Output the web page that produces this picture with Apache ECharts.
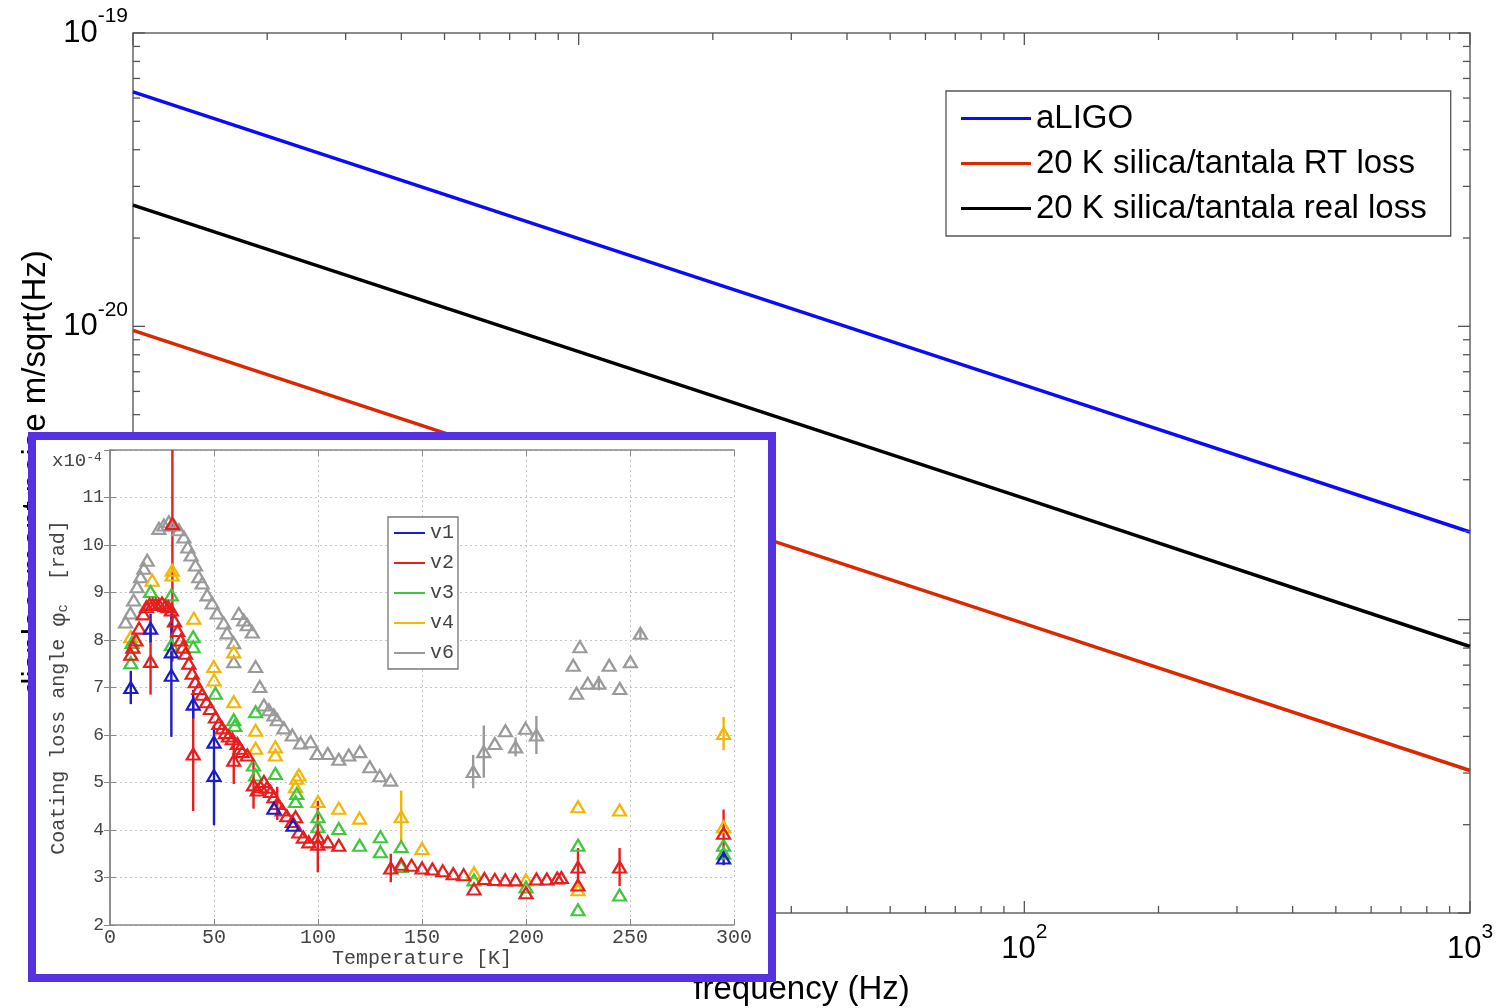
<!DOCTYPE html>
<html>
<head>
<meta charset="utf-8">
<script src="https://cdn.jsdelivr.net/npm/echarts@6/dist/echarts.min.js"></script>
<style>
  html, body { margin: 0; padding: 0; background: #fff; }
  #chart { width: 1501px; height: 1008px; }
</style>
</head>
<body>
<div id="chart"></div>
<script>
// ---- Main plot: coating thermal noise vs frequency (log-log) ----
const freq = [1, 10, 100, 1000];
const aligo = [6.30e-20, 1.99e-20, 6.30e-21, 1.99e-21];
const rtLoss = [9.69e-21, 3.06e-21, 9.69e-22, 3.06e-22];
const realLoss = [2.59e-20, 8.2e-21, 2.59e-21, 8.1e-22];

const xMajorTicks = [1, 10, 100, 1000];
const xMinorTicks = [2, 3, 4, 5, 6, 7, 8, 9, 20, 30, 40, 50, 60, 70, 80, 90, 200, 300, 400, 500, 600, 700, 800, 900];
const yMajorTicks = [1e-22, 1e-21, 1e-20, 1e-19];
const yMinorTicks = [2e-22, 3e-22, 4e-22, 5e-22, 6e-22, 7e-22, 8e-22, 9e-22,
                     2e-21, 3e-21, 4e-21, 5e-21, 6e-21, 7e-21, 8e-21, 9e-21,
                     2e-20, 3e-20, 4e-20, 5e-20, 6e-20, 7e-20, 8e-20, 9e-20];

// the noise axis is plotted in units of 1e-22 m/sqrt(Hz) to keep the log scale well conditioned
const Y_UNIT = 1e-22;
const Y_UNIT_EXP = -22;

// ---- Inset: coating loss angle vs temperature, [T (K), phi (1e-4 rad), error] ----
const v1 = [
  [10, 7.0, 0.35], [19.5, 8.25, 0.3], [29.5, 7.75, 0], [29.5, 7.26, 1.3], [40, 6.65, 0.3],
  [50, 5.85, 0], [50, 5.15, 1.05], [78.8, 4.46, 0], [88, 4.1, 0], [295, 3.41, 0.15]
];
const v2 = [
  [10, 7.7, 0], [11, 7.85, 0], [12.5, 8.0, 0], [14, 8.25, 0], [16, 8.55, 0], [17.5, 8.7, 0],
  [19, 8.75, 0], [19.5, 7.55, 0.7], [20.5, 8.75, 0], [22, 8.75, 0], [23.5, 8.75, 0], [25, 8.78, 0],
  [26.5, 8.72, 0], [28, 8.7, 0], [30, 10.45, 2.9], [29.5, 8.63, 0], [31, 8.4, 0], [32.5, 8.2, 0],
  [34, 8.0, 0], [35, 7.85, 0], [36.3, 7.72, 0], [37.9, 7.51, 0], [39.5, 7.3, 0], [40, 5.6, 1.2],
  [41, 7.12, 0], [42.7, 6.98, 0], [44.3, 6.86, 0], [46.4, 6.7, 0], [48.3, 6.56, 0], [50.7, 6.38, 0],
  [52.3, 6.24, 0], [54, 6.15, 0], [55.5, 6.05, 0], [57, 5.98, 0], [58.8, 5.92, 0], [59.5, 5.47, 0.5],
  [61.2, 5.82, 0], [62.5, 5.72, 0], [63.6, 5.65, 0], [66, 5.58, 0], [69, 4.95, 0.5], [70.8, 4.84, 0],
  [72.4, 4.91, 0], [74, 5.02, 0], [75.5, 4.9, 0], [77.2, 4.81, 0], [78.8, 4.7, 0], [80.4, 4.56, 0.35],
  [82.8, 4.42, 0], [85, 4.3, 0], [87.6, 4.18, 0], [89.2, 4.28, 0], [90.8, 3.96, 0], [93, 3.85, 0],
  [95.6, 3.75, 0], [99.9, 3.86, 0.75], [99.9, 3.7, 0], [104.7, 3.75, 0], [110, 3.68, 0],
  [135, 3.2, 0.3], [140, 3.28, 0], [145, 3.26, 0], [150, 3.2, 0], [155, 3.18, 0], [160, 3.14, 0],
  [165, 3.08, 0], [170, 3.06, 0], [175, 2.76, 0], [180, 2.98, 0], [185, 2.96, 0], [190, 2.95, 0],
  [195, 2.95, 0], [200, 2.68, 0], [205, 2.97, 0], [210, 2.97, 0], [215, 2.99, 0], [217, 3.0, 0],
  [225, 3.22, 0.4], [225, 2.84, 0], [245, 3.22, 0.4], [295, 3.93, 0.5]
];
const v3 = [
  [10, 7.52, 0], [10.6, 7.95, 0], [19.5, 9.02, 0], [29.5, 8.95, 0], [29.5, 7.9, 0], [40, 8.07, 0],
  [40, 7.86, 0], [50.7, 6.88, 0], [59.5, 6.32, 0], [60, 6.2, 0], [70, 6.49, 0], [69, 5.37, 0],
  [70, 5.16, 0], [79.5, 5.19, 0], [89.8, 4.77, 0], [89.2, 4.6, 0], [100, 4.28, 0], [100, 4.07, 0],
  [110, 4.03, 0], [120, 3.68, 0], [130, 3.86, 0], [130, 3.54, 0], [140, 3.65, 0], [140, 3.23, 0],
  [175, 2.95, 0], [200, 2.8, 0], [225, 3.68, 0], [225, 2.32, 0], [245, 2.63, 0], [295, 3.68, 0],
  [295, 3.51, 0]
];
const v4 = [
  [10, 8.07, 0], [20.3, 9.26, 0], [29.9, 9.47, 0], [29.9, 9.37, 0], [40.3, 8.46, 0], [49.9, 7.44, 0],
  [50, 7.16, 0], [59.5, 7.75, 0], [59.5, 6.7, 0], [70, 6.1, 0], [70, 5.72, 0], [79.5, 5.75, 0],
  [79.5, 5.58, 0], [89.8, 5.09, 0], [90.8, 5.16, 0], [89.2, 4.91, 0], [100, 4.6, 0], [110, 4.46, 0],
  [120, 4.25, 0], [140, 4.28, 0.55], [150, 3.61, 0], [175, 3.1, 0], [200, 2.95, 0], [225, 4.49, 0],
  [225, 2.74, 0], [245, 4.42, 0], [295, 6.03, 0.35], [295, 4.07, 0]
];
const v6 = [
  [7.5, 8.38, 0], [9.8, 8.57, 0], [11.4, 8.84, 0], [13, 9.12, 0], [14.7, 9.33, 0], [16.3, 9.51, 0],
  [17.9, 9.68, 0], [23.5, 10.35, 0], [25.9, 10.42, 0], [28.3, 10.49, 0], [30.7, 10.42, 0],
  [33.1, 10.32, 0], [35.5, 10.17, 0], [37.4, 9.96, 0], [39, 9.79, 0], [41.1, 9.58, 0], [42.7, 9.33, 0],
  [44.3, 9.2, 0], [46.7, 8.95, 0], [49.1, 8.78, 0], [51.5, 8.57, 0], [54.7, 8.36, 0], [56.3, 8.15, 0],
  [59.5, 7.94, 0], [61.9, 8.56, 0], [64.3, 8.42, 0], [66, 8.32, 0], [68.4, 8.17, 0], [59.5, 7.54, 0],
  [70, 7.44, 0], [72, 7.02, 0], [74, 6.63, 0], [76.4, 6.53, 0], [78.8, 6.42, 0], [80.4, 6.32, 0],
  [83.6, 6.15, 0], [87.6, 6.0, 0], [91.6, 5.83, 0], [96.4, 5.86, 0], [99.6, 5.61, 0], [104.7, 5.61, 0],
  [110, 5.49, 0], [114.8, 5.58, 0], [120.1, 5.65, 0], [124.9, 5.33, 0], [129.7, 5.14, 0],
  [134.9, 5.05, 0], [174.6, 5.23, 0.35], [179.7, 5.65, 0.55], [185, 5.82, 0], [190.1, 6.09, 0],
  [195, 5.75, 0.2], [199.8, 6.14, 0], [205, 6.0, 0.4], [222.7, 7.47, 0], [224.3, 6.88, 0],
  [225.9, 7.86, 0], [229.7, 7.09, 0], [235, 7.09, 0.15], [240, 7.47, 0], [245.1, 6.98, 0],
  [250.2, 7.54, 0], [255, 8.14, 0.1]
];

const insetYTicks = [2, 3, 4, 5, 6, 7, 8, 9, 10, 11];

const SANS = "'Liberation Sans', Arial, sans-serif";
const MONO = "'Liberation Mono', 'Courier New', monospace";

const chart = echarts.init(document.getElementById('chart'), null, { renderer: 'canvas' });

const powRich = {
  b: { fontSize: 31, fontFamily: SANS, color: '#000', lineHeight: 54 },
  s: { fontSize: 21, fontFamily: SANS, color: '#000', lineHeight: 22, verticalAlign: 'top' }
};
function xPowLabel(v) { return '{b|10}{s|' + Math.round(Math.log10(v)) + '}'; }
function yPowLabel(v) { return '{b|10}{s|' + (Math.round(Math.log10(v)) + Y_UNIT_EXP) + '}'; }

// tick marks on all four sides of the log-log frame
function xTickItem(params, api) {
  const p = api.coord([api.value(0), api.value(1)]);
  const cs = params.coordSys;
  const len = api.value(2);
  const st = { stroke: '#555', lineWidth: 1.3 };
  return { type: 'group', children: [
    { type: 'line', shape: { x1: p[0], y1: cs.y + cs.height, x2: p[0], y2: cs.y + cs.height - len }, style: st },
    { type: 'line', shape: { x1: p[0], y1: cs.y, x2: p[0], y2: cs.y + len }, style: st }
  ] };
}
function yTickItem(params, api) {
  const p = api.coord([api.value(0), api.value(1)]);
  const cs = params.coordSys;
  const len = api.value(2);
  const st = { stroke: '#555', lineWidth: 1.3 };
  return { type: 'group', children: [
    { type: 'line', shape: { x1: cs.x, y1: p[1], x2: cs.x + len, y2: p[1] }, style: st },
    { type: 'line', shape: { x1: cs.x + cs.width, y1: p[1], x2: cs.x + cs.width - len, y2: p[1] }, style: st }
  ] };
}

function errItemFactory(color) {
  return function (params, api) {
    const t = api.value(0), v = api.value(1), e = api.value(2);
    const a = api.coord([t, Math.max(2, v - e)]);
    const b = api.coord([t, Math.min(12, v + e)]);
    return { type: 'line', shape: { x1: a[0], y1: a[1], x2: b[0], y2: b[1] },
             style: { stroke: color, lineWidth: 2.4 } };
  };
}

const insetColors = { v1: '#1c1cc8', v2: '#e61e1e', v3: '#3ec83e', v4: '#f2b705', v6: '#9a9a9a' };
const insetSets = [['v6', v6], ['v4', v4], ['v3', v3], ['v2', v2], ['v1', v1]];

const insetSeries = [];
insetSets.forEach(([name, arr]) => {
  insetSeries.push({
    type: 'custom', name: name + ' err', xAxisIndex: 1, yAxisIndex: 1, z: 61, silent: true,
    renderItem: errItemFactory(insetColors[name]),
    data: arr.filter(d => d[2] > 0)
  });
});
insetSets.forEach(([name, arr]) => {
  insetSeries.push({
    type: 'scatter', name: name, xAxisIndex: 1, yAxisIndex: 1, z: 62, silent: true,
    symbol: 'triangle', symbolSize: [13, 11],
    itemStyle: { color: 'rgba(255,255,255,0)', borderColor: insetColors[name], borderWidth: 2.2, opacity: 1 },
    data: arr
  });
});

const toPlot = (vals) => freq.map((f, i) => [f, vals[i] / Y_UNIT]);

const option = {
  animation: false,
  backgroundColor: '#fff',
  grid: [
    { left: 133, top: 33, right: 31, bottom: 95, outerBoundsMode: 'none', containLabel: false,
      show: true, borderColor: '#666', borderWidth: 1.5, backgroundColor: 'rgba(0,0,0,0)' },
    { left: 110, top: 450, right: 767, bottom: 83, outerBoundsMode: 'none', containLabel: false }
  ],
  xAxis: [
    {
      type: 'log', logBase: 10, min: 1, max: 1000, gridIndex: 0,
      axisLine: { show: false }, axisTick: { show: false }, splitLine: { show: false },
      axisLabel: { formatter: xPowLabel, rich: powRich, margin: 9 },
      name: 'frequency (Hz)', nameLocation: 'middle', nameGap: 60,
      nameTextStyle: { fontSize: 33, fontFamily: SANS, color: '#000' }
    },
    {
      type: 'value', min: 0, max: 300, interval: 50, gridIndex: 1, z: 60,
      axisLine: { show: true, lineStyle: { color: '#888', width: 1.5 } },
      axisTick: { show: true, inside: true, length: 6, lineStyle: { color: '#888' } },
      splitLine: { show: true, lineStyle: { color: '#c4c4c4', type: [2, 3], width: 1 } },
      axisLabel: { fontSize: 20, fontFamily: MONO, color: '#444', margin: 3 },
      name: 'Temperature [K]', nameLocation: 'middle', nameGap: 20,
      nameTextStyle: { fontSize: 20, fontFamily: MONO, color: '#444' }
    },
    {
      type: 'value', min: 0, max: 300, interval: 50, gridIndex: 1, position: 'top', z: 60,
      axisLine: { show: true, lineStyle: { color: '#888', width: 1.5 } },
      axisTick: { show: true, inside: true, length: 6, lineStyle: { color: '#888' } },
      splitLine: { show: false }, axisLabel: { show: false }
    }
  ],
  yAxis: [
    {
      type: 'log', logBase: 10, min: yMajorTicks[0] / Y_UNIT, max: yMajorTicks[3] / Y_UNIT, gridIndex: 0,
      axisLine: { show: false }, axisTick: { show: false }, splitLine: { show: false },
      axisLabel: { formatter: yPowLabel, rich: powRich, margin: 5 },
      name: 'displacement noise m/sqrt(Hz)', nameLocation: 'middle', nameGap: 80,
      nameTextStyle: { fontSize: 33, fontFamily: SANS, color: '#000' }
    },
    {
      type: 'value', min: 2, max: 12, interval: 1, gridIndex: 1, z: 60,
      axisLine: { show: true, lineStyle: { color: '#888', width: 1.5 } },
      axisTick: { show: true, inside: true, length: 6, lineStyle: { color: '#888' } },
      splitLine: { show: true, lineStyle: { color: '#c4c4c4', type: [2, 3], width: 1 } },
      axisLabel: {
        fontSize: 18, fontFamily: MONO, color: '#444', margin: 6,
        formatter: v => (insetYTicks.indexOf(v) >= 0 ? String(v) : '')
      },
      name: 'Coating loss angle {p|φ}{c|c}  [rad]', nameLocation: 'middle', nameGap: 40,
      nameTextStyle: {
        fontSize: 20, fontFamily: MONO, color: '#444',
        rich: {
          p: { fontSize: 22, fontFamily: SANS, color: '#444' },
          c: { fontSize: 14, fontFamily: MONO, color: '#444', verticalAlign: 'bottom' }
        }
      }
    },
    {
      type: 'value', min: 2, max: 12, interval: 1, gridIndex: 1, position: 'right', z: 60,
      axisLine: { show: true, lineStyle: { color: '#888', width: 1.5 } },
      axisTick: { show: true, inside: true, length: 6, lineStyle: { color: '#888' } },
      splitLine: { show: false }, axisLabel: { show: false }
    }
  ],
  legend: [
    {
      left: 946, top: 91, orient: 'vertical', icon: 'rect', itemWidth: 70, itemHeight: 3, itemGap: 12,
      padding: [11, 24, 11, 15], borderColor: '#555', borderWidth: 1.3, backgroundColor: '#fff',
      selectedMode: false,
      textStyle: { fontSize: 33, fontFamily: SANS, color: '#000', lineHeight: 32 },
      data: ['aLIGO', '20 K silica/tantala RT loss', '20 K silica/tantala real loss']
    },
    {
      left: 388, top: 517, orient: 'vertical', icon: 'rect', itemWidth: 31, itemHeight: 2, itemGap: 10,
      padding: [6, 4, 6, 6], borderColor: '#777', borderWidth: 1.3, backgroundColor: '#fff',
      selectedMode: false, z: 70,
      textStyle: { fontSize: 20, fontFamily: MONO, color: '#444', lineHeight: 20 },
      data: ['v1', 'v2', 'v3', 'v4', 'v6'].map(n => ({ name: n, itemStyle: { color: insetColors[n], borderWidth: 0 } }))
    }
  ],
  graphic: [
    {
      type: 'rect', z: 50, silent: true,
      shape: { x: 32, y: 436, width: 740, height: 542 },
      style: { fill: '#fff', stroke: '#5631e0', lineWidth: 8 }
    },
    {
      type: 'text', z: 60, silent: true, left: 52, top: 451,
      style: {
        text: 'x10{s|-4}', fontSize: 19, fontFamily: MONO, fill: '#444',
        rich: { s: { fontSize: 13, fontFamily: MONO, fill: '#444', verticalAlign: 'top' } }
      }
    }
  ],
  series: [
    { type: 'line', name: 'aLIGO', xAxisIndex: 0, yAxisIndex: 0, z: 3, showSymbol: false, silent: true,
      color: '#0a0aff', lineStyle: { color: '#0a0aff', width: 3.5 }, data: toPlot(aligo) },
    { type: 'line', name: '20 K silica/tantala RT loss', xAxisIndex: 0, yAxisIndex: 0, z: 3, showSymbol: false, silent: true,
      color: '#dc2800', lineStyle: { color: '#dc2800', width: 3.5 }, data: toPlot(rtLoss) },
    { type: 'line', name: '20 K silica/tantala real loss', xAxisIndex: 0, yAxisIndex: 0, z: 3, showSymbol: false, silent: true,
      color: '#000', lineStyle: { color: '#000', width: 3.5 }, data: toPlot(realLoss) },
    { type: 'custom', name: 'xticks-major', xAxisIndex: 0, yAxisIndex: 0, z: 4, silent: true, renderItem: xTickItem,
      data: xMajorTicks.map(v => [v, 10, 12]) },
    { type: 'custom', name: 'xticks-minor', xAxisIndex: 0, yAxisIndex: 0, z: 4, silent: true, renderItem: xTickItem,
      data: xMinorTicks.map(v => [v, 10, 7]) },
    { type: 'custom', name: 'yticks-major', xAxisIndex: 0, yAxisIndex: 0, z: 4, silent: true, renderItem: yTickItem,
      data: yMajorTicks.map(v => [10, v / Y_UNIT, 12]) },
    { type: 'custom', name: 'yticks-minor', xAxisIndex: 0, yAxisIndex: 0, z: 4, silent: true, renderItem: yTickItem,
      data: yMinorTicks.map(v => [10, v / Y_UNIT, 7]) }
  ].concat(insetSeries)
};

chart.setOption(option);
</script>
</body>
</html>
